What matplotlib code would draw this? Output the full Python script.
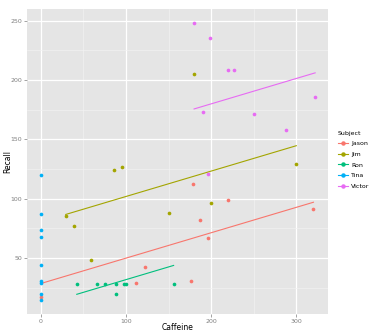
import matplotlib
matplotlib.use("Agg")
import matplotlib.pyplot as plt
from matplotlib.lines import Line2D
import numpy as np

subjects = ["Jason", "Jim", "Ron", "Tina", "Victor"]
colors = ["#F8766D", "#A3A500", "#00BF7D", "#00B0F6", "#E76BF3"]

jason_x = [0, 112, 122, 176, 179, 187, 196, 220, 320]
jason_y = [17.5, 29, 42.6, 31, 112.6, 82, 67, 98.6, 91]
jim_x = [29.5, 39.6, 59.6, 86.2, 95.2, 150.3, 180, 199.9, 299.9]
jim_y = [85.7, 76.7, 48.5, 124.1, 126.6, 88, 205, 96.6, 129.2]
ron_x = [42.4, 66, 76, 88, 88, 98.2, 100.6, 156]
ron_y = [28.3, 28.3, 28.3, 28.3, 19.5, 28.3, 28.3, 28.3]
tina_x = [0, 0, 0, 0, 0, 0, 0, 0, 0]
tina_y = [120.2, 87.6, 73.7, 67.5, 44, 31, 28.8, 20.2, 15.1]
victor_x = [180, 199, 220, 227, 190, 250, 288, 322, 196]
victor_y = [248.2, 235, 208.2, 208.2, 173, 171.7, 157.6, 185.5, 121]

# fitted model: common slope, subject intercepts
fit_slope = 0.214
fit_intercepts = {"Jason": 28.6, "Jim": 80.5, "Ron": 10.5, "Tina": None, "Victor": 137.1}

xs = [jason_x, jim_x, ron_x, tina_x, victor_x]
ys = [jason_y, jim_y, ron_y, tina_y, victor_y]

fig = plt.figure(figsize=(3.8, 3.36), dpi=100)
ax = fig.add_axes([0.071, 0.0655, 0.792, 0.9075])
ax.set_facecolor("#E5E5E5")
for s in ax.spines.values():
    s.set_visible(False)

ax.set_xlim(-16, 337)
ax.set_ylim(3, 259.7)
ax.set_xticks([0, 100, 200, 300])
ax.set_yticks([50, 100, 150, 200, 250])
ax.set_xticks([50, 150, 250], minor=True)
ax.set_yticks([25, 75, 125, 175, 225], minor=True)
ax.grid(which="major", color="white", linewidth=0.9)
ax.grid(which="minor", color="#F2F2F2", linewidth=0.45)
ax.set_axisbelow(True)
ax.tick_params(which="major", length=2, width=0.5, color="#7F7F7F",
               labelsize=4.5, labelcolor="#7F7F7F", pad=1.5)
ax.tick_params(which="minor", length=0)

for name, c, x, y in zip(subjects, colors, xs, ys):
    ax.scatter(x, y, s=7, color=c, zorder=3, linewidths=0)
    b = fit_intercepts[name]
    if b is not None:
        xl = np.array([min(x), max(x)])
        ax.plot(xl, b + fit_slope * xl, color=c, linewidth=0.8, zorder=2)

ax.set_xlabel("Caffeine", fontsize=5.5)
ax.set_ylabel("Recall", fontsize=5.5)
ax.xaxis.set_label_coords(0.5, -0.043)
ax.yaxis.set_label_coords(-0.063, 0.5)
ax.xaxis.label.set_va("center")
ax.yaxis.label.set_va("center")

handles = [Line2D([0], [0], color=c, marker="o", markersize=2.2, linewidth=0.8)
           for c in colors]
leg = fig.legend(handles, subjects, title="Subject", loc="upper left",
                 bbox_to_anchor=(0.875, 0.628), frameon=False, fontsize=4.5,
                 title_fontsize=4.5, handlelength=1.6, labelspacing=0.85,
                 handletextpad=0.5, alignment="left")

fig.savefig("out.png", dpi=100)
